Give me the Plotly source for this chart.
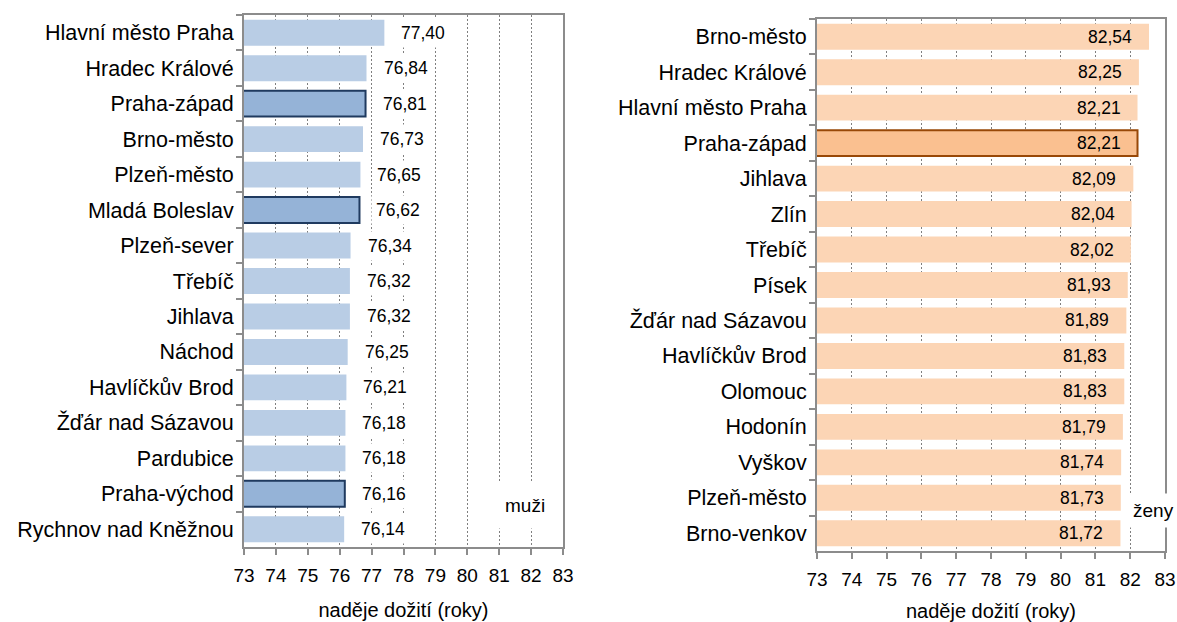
import plotly.graph_objects as go
from plotly.subplots import make_subplots

# muži - naděje dožití
okresy_muzi = ["Hlavní město Praha", "Hradec Králové", "Praha-západ", "Brno-město",
               "Plzeň-město", "Mladá Boleslav", "Plzeň-sever", "Třebíč", "Jihlava",
               "Náchod", "Havlíčkův Brod", "Žďár nad Sázavou", "Pardubice",
               "Praha-východ", "Rychnov nad Kněžnou"]
hodnoty_muzi = [77.40, 76.84, 76.81, 76.73, 76.65, 76.62, 76.34, 76.32, 76.32,
                76.25, 76.21, 76.18, 76.18, 76.16, 76.14]
zvyraznene_muzi = ["Praha-západ", "Mladá Boleslav", "Praha-východ"]

# ženy - naděje dožití
okresy_zeny = ["Brno-město", "Hradec Králové", "Hlavní město Praha", "Praha-západ",
               "Jihlava", "Zlín", "Třebíč", "Písek", "Žďár nad Sázavou",
               "Havlíčkův Brod", "Olomouc", "Hodonín", "Vyškov", "Plzeň-město",
               "Brno-venkov"]
hodnoty_zeny = [82.54, 82.25, 82.21, 82.21, 82.09, 82.04, 82.02, 81.93, 81.89,
                81.83, 81.83, 81.79, 81.74, 81.73, 81.72]
zvyraznene_zeny = ["Praha-západ"]

x_ticks = list(range(73, 84))
x_title = "naděje dožití (roky)"

FONT = "Liberation Sans, Arial, sans-serif"
W, H = 1177, 622


def fmt(v):
    return f"{v:.2f}".replace(".", ",")


fig = make_subplots(rows=1, cols=2)

barvy_m = ["#95B3D7" if o in zvyraznene_muzi else "#B9CDE5" for o in okresy_muzi]
cary_m = [2 if o in zvyraznene_muzi else 0 for o in okresy_muzi]
fig.add_trace(go.Bar(
    y=okresy_muzi, x=hodnoty_muzi, orientation="h",
    marker=dict(color=barvy_m, line=dict(color="#1F3A5F", width=cary_m)),
    hoverinfo="skip", showlegend=False), row=1, col=1)

barvy_z = ["#FAC090" if o in zvyraznene_zeny else "#FCD5B5" for o in okresy_zeny]
cary_z = [2 if o in zvyraznene_zeny else 0 for o in okresy_zeny]
fig.add_trace(go.Bar(
    y=okresy_zeny, x=hodnoty_zeny, orientation="h",
    marker=dict(color=barvy_z, line=dict(color="#984807", width=cary_z)),
    hoverinfo="skip", showlegend=False), row=1, col=2)

# datové popisky
for o, v in zip(okresy_muzi, hodnoty_muzi):
    fig.add_annotation(x=v, y=o, xref="x", yref="y", text=fmt(v), showarrow=False,
                       xanchor="left", xshift=12, bgcolor="white", borderpad=4,
                       font=dict(family=FONT, size=17.5, color="black"))
for o, v in zip(okresy_zeny, hodnoty_zeny):
    fig.add_annotation(x=v, y=o, xref="x2", yref="y2", text=fmt(v), showarrow=False,
                       xanchor="right", xshift=-15,
                       font=dict(family=FONT, size=17.5, color="black"))

fig.add_annotation(x=525 / W, y=1 - 505 / H, xref="paper", yref="paper", text="muži",
                   showarrow=False, bgcolor="white", borderpad=12,
                   xanchor="center", yanchor="middle",
                   font=dict(family=FONT, size=19, color="black"))
fig.add_annotation(x=1153 / W, y=1 - 510 / H, xref="paper", yref="paper", text="ženy",
                   showarrow=False, bgcolor="white", borderpad=6,
                   xanchor="center", yanchor="middle",
                   font=dict(family=FONT, size=19, color="black"))

osa_x = dict(range=[73, 83], tickvals=x_ticks, showgrid=True, griddash="2px,2px",
             gridcolor="#7f7f7f", gridwidth=1, showline=True, mirror=True,
             linecolor="#8c8c8c", linewidth=2, ticks="outside", ticklen=6,
             tickcolor="#8c8c8c", tickwidth=1.5, zeroline=False, automargin=False,
             ticklabelstandoff=4,
             tickfont=dict(family=FONT, size=19, color="black"),
             title=dict(text=x_title, standoff=18,
                        font=dict(family=FONT, size=20, color="black")))
osa_y = dict(autorange="reversed", showline=True, mirror=True, linecolor="#8c8c8c",
             linewidth=2, ticks="outside", tickson="boundaries", ticklen=6,
             tickcolor="#8c8c8c", tickwidth=1.5, showgrid=False, automargin=False,
             ticklabelstandoff=4,
             tickfont=dict(family=FONT, size=21.5, color="black"))

fig.update_xaxes(osa_x)
fig.update_yaxes(osa_y)
fig.update_xaxes(domain=[244 / W, 563 / W], row=1, col=1)
fig.update_xaxes(domain=[817 / W, 1165 / W], row=1, col=2)
fig.update_yaxes(domain=[1 - 547 / H, 1 - 15 / H], row=1, col=1)
fig.update_yaxes(domain=[1 - 551 / H, 1 - 19 / H], row=1, col=2)

fig.update_layout(
    width=W, height=H, bargap=0.27,
    margin=dict(l=0, r=0, t=0, b=0, autoexpand=False),
    paper_bgcolor="white", plot_bgcolor="white",
    font=dict(family=FONT, color="black"),
)

# bez okraje stránky, aby graf seděl na pixel
fig.write_html("out.html", config={"displayModeBar": False},
               post_script="document.body.style.margin='0';")
